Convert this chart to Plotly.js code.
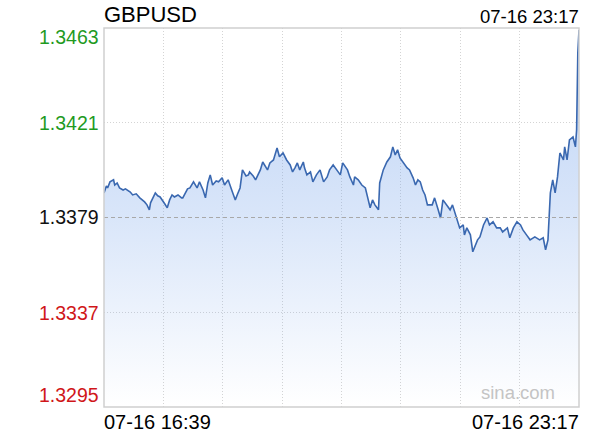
<!DOCTYPE html>
<html>
<head>
<meta charset="utf-8">
<script src="https://cdn.plot.ly/plotly-3.0.1.min.js"></script>
<style>
  html, body { margin: 0; padding: 0; background: #ffffff; }
  #chart { width: 589px; height: 437px; }
</style>
</head>
<body>
<div id="chart"></div>
<script>
// ---- data ----
const symbol = "GBPUSD";
const day = "2025-07-16";
const dayLabel = "07-16";
const startTime = "16:39";
const endTime = "23:17";

const times = [
  "16:39","16:41","16:42","16:44","16:47","16:48","16:50","16:52","16:55","16:57",
  "17:01","17:03","17:06","17:09","17:13","17:15","17:17","17:18","17:22","17:24",
  "17:26","17:28","17:30","17:32","17:34","17:36","17:38","17:41","17:44","17:45",
  "17:48","17:49","17:51","17:54","17:57","17:59","18:02","18:04","18:06","18:08",
  "18:10","18:13","18:15","18:18","18:20","18:23","18:26","18:29","18:31","18:33",
  "18:35","18:38","18:40","18:41","18:44","18:46","18:48","18:50","18:52","18:54",
  "18:56","18:58","19:01","19:04","19:06","19:09","19:12","19:15","19:17","19:19",
  "19:21","19:23","19:26","19:27","19:29","19:32","19:34","19:37","19:40","19:43",
  "19:46","19:48","19:51","19:54","19:57","19:59","20:03","20:05","20:08","20:09",
  "20:12","20:15","20:18","20:20","20:22","20:24","20:26","20:29","20:30","20:33",
  "20:36","20:39","20:41","20:43","20:45","20:47","20:50","20:53","20:55","20:58",
  "21:00","21:02","21:04","21:06","21:08","21:10","21:14","21:16","21:19","21:21",
  "21:23","21:26","21:29","21:31","21:35","21:37","21:40","21:41","21:43","21:46",
  "21:48","21:52","21:54","21:57","22:00","22:02","22:05","22:08","22:11","22:13",
  "22:17","22:19","22:22","22:25","22:28","22:30","22:33","22:36","22:40","22:44",
  "22:47","22:49","22:51","22:53","22:55","22:57","22:59","23:01","23:04","23:05",
  "23:07","23:09","23:12","23:14","23:15","23:16","23:17"
];

const prices = [
  1.33899,1.33930,1.33921,1.33948,1.33957,1.33934,1.33943,1.33921,1.33912,1.33917,
  1.33903,1.33890,1.33895,1.33877,1.33859,1.33846,1.33824,1.33855,1.33899,1.33886,
  1.33881,1.33868,1.33850,1.33833,1.33868,1.33890,1.33881,1.33890,1.33877,1.33877,
  1.33903,1.33917,1.33921,1.33948,1.33921,1.33948,1.33912,1.33877,1.33943,1.33979,
  1.33934,1.33952,1.33948,1.33966,1.33934,1.33957,1.33912,1.33868,1.33895,1.33921,
  1.34001,1.33974,1.33979,1.33992,1.33974,1.33957,1.33979,1.34001,1.34036,1.34019,
  1.34001,1.34032,1.34045,1.34098,1.34059,1.34076,1.34045,1.34023,1.33992,1.34010,
  1.34032,1.34001,1.34036,1.34010,1.33979,1.33992,1.33948,1.33979,1.34001,1.33948,
  1.33970,1.34001,1.34023,1.34001,1.33979,1.34032,1.34001,1.33970,1.33934,1.33970,
  1.33957,1.33934,1.33921,1.33877,1.33833,1.33868,1.33846,1.33824,1.33943,1.34001,
  1.34036,1.34059,1.34103,1.34067,1.34090,1.34054,1.34032,1.34010,1.34001,1.33966,
  1.33934,1.33957,1.33948,1.33912,1.33890,1.33846,1.33846,1.33877,1.33824,1.33788,
  1.33868,1.33846,1.33824,1.33846,1.33779,1.33744,1.33757,1.33713,1.33744,1.33713,
  1.33638,1.33691,1.33704,1.33757,1.33788,1.33757,1.33771,1.33744,1.33744,1.33726,
  1.33744,1.33700,1.33744,1.33771,1.33757,1.33735,1.33713,1.33691,1.33704,1.33691,
  1.33700,1.33647,1.33691,1.33899,1.33957,1.33899,1.33970,1.34076,1.34045,1.34103,
  1.34045,1.34134,1.34147,1.34103,1.34178,1.34519,1.34621
];

const yTicks = [1.3463, 1.3421, 1.3379, 1.3337, 1.3295];
const yTickLabels = ["1.3463", "1.3421", "1.3379", "1.3337", "1.3295"];
const prevClose = 1.3379;

// ---- build chart ----
const xs = times.map(t => day + " " + t);
const x0 = day + " " + startTime;
const x1 = day + " " + endTime;

const trace = {
  type: "scatter",
  mode: "lines",
  x: xs,
  y: prices,
  line: { color: "#3a68b0", width: 1.6 },
  fill: "tozeroy",
  fillgradient: {
    type: "vertical",
    start: yTicks[4],
    stop: yTicks[0],
    colorscale: [
      [0, "rgba(120,165,235,0.0)"],
      [0.5, "rgba(120,165,235,0.28)"],
      [1, "rgba(120,165,235,0.5)"]
    ]
  },
  hoverinfo: "skip"
};

const labelColors = ["#1f9a1f", "#1f9a1f", "#111111", "#d0161a", "#d0161a"];
const labelPaperY = [0.975, 0.7493, 0.5026, 0.248, 0.0317];

const annotations = [];
yTicks.forEach((v, i) => {
  annotations.push({
    xref: "paper", yref: "paper", x: 0, y: labelPaperY[i],
    xanchor: "right", yanchor: "middle", xshift: -3,
    text: yTickLabels[i], showarrow: false,
    font: { family: "Liberation Sans, Arial, sans-serif", size: 19.5, color: labelColors[i] }
  });
});
annotations.push({
  xref: "paper", yref: "paper", x: 0, y: 1.0356, xanchor: "left", yanchor: "middle",
  xshift: -2, text: symbol, showarrow: false,
  font: { family: "Liberation Sans, Arial, sans-serif", size: 22, color: "#000" }
});
annotations.push({
  xref: "paper", yref: "paper", x: 1, y: 1.0303, xanchor: "right", yanchor: "middle",
  xshift: 2, text: dayLabel + " " + endTime, showarrow: false,
  font: { family: "Liberation Sans, Arial, sans-serif", size: 18.5, color: "#000" }
});
annotations.push({
  xref: "paper", yref: "paper", x: 0, y: -0.0396, xanchor: "left", yanchor: "middle",
  xshift: -2, text: dayLabel + " " + startTime, showarrow: false,
  font: { family: "Liberation Sans, Arial, sans-serif", size: 20, color: "#000" }
});
annotations.push({
  xref: "paper", yref: "paper", x: 1, y: -0.0396, xanchor: "right", yanchor: "middle",
  xshift: 2, text: dayLabel + " " + endTime, showarrow: false,
  font: { family: "Liberation Sans, Arial, sans-serif", size: 20, color: "#000" }
});
annotations.push({
  xref: "paper", yref: "paper", x: 1, y: 0.037, xanchor: "right", yanchor: "middle",
  xshift: -22, text: "sina.com", showarrow: false,
  font: { family: "Liberation Sans, Arial, sans-serif", size: 18.5, color: "#c4c4c4" }
});

const layout = {
  width: 589, height: 437,
  margin: { l: 104, r: 10, t: 28, b: 30, pad: 0 },
  paper_bgcolor: "#ffffff",
  plot_bgcolor: "#ffffff",
  showlegend: false,
  xaxis: {
    type: "date",
    range: [x0, x1],
    tick0: x0,
    dtick: 2985000,
    showticklabels: false,
    ticks: "",
    showgrid: true,
    gridcolor: "#d4d4d4",
    griddash: "1px,2px",
    gridwidth: 1,
    zeroline: false,
    showline: false,
    fixedrange: true
  },
  yaxis: {
    range: [yTicks[4], yTicks[0]],
    tickvals: [yTicks[1], yTicks[3]],
    showticklabels: false,
    ticks: "",
    showgrid: true,
    gridcolor: "#d4d4d4",
    griddash: "1px,2px",
    gridwidth: 1,
    zeroline: false,
    showline: false,
    fixedrange: true
  },
  shapes: [
    {
      type: "line", xref: "paper", yref: "y", x0: 0, x1: 1, y0: prevClose, y1: prevClose,
      line: { color: "#a8a8a8", width: 1, dash: "4px,3px" }, layer: "above"
    },
    {
      type: "rect", xref: "paper", yref: "paper", x0: 0, x1: 1, y0: 0, y1: 1,
      line: { color: "#cfcfcf", width: 1.5 }, layer: "above"
    }
  ],
  annotations: annotations
};

Plotly.newPlot("chart", [trace], layout, { staticPlot: true, displayModeBar: false });
</script>
</body>
</html>
